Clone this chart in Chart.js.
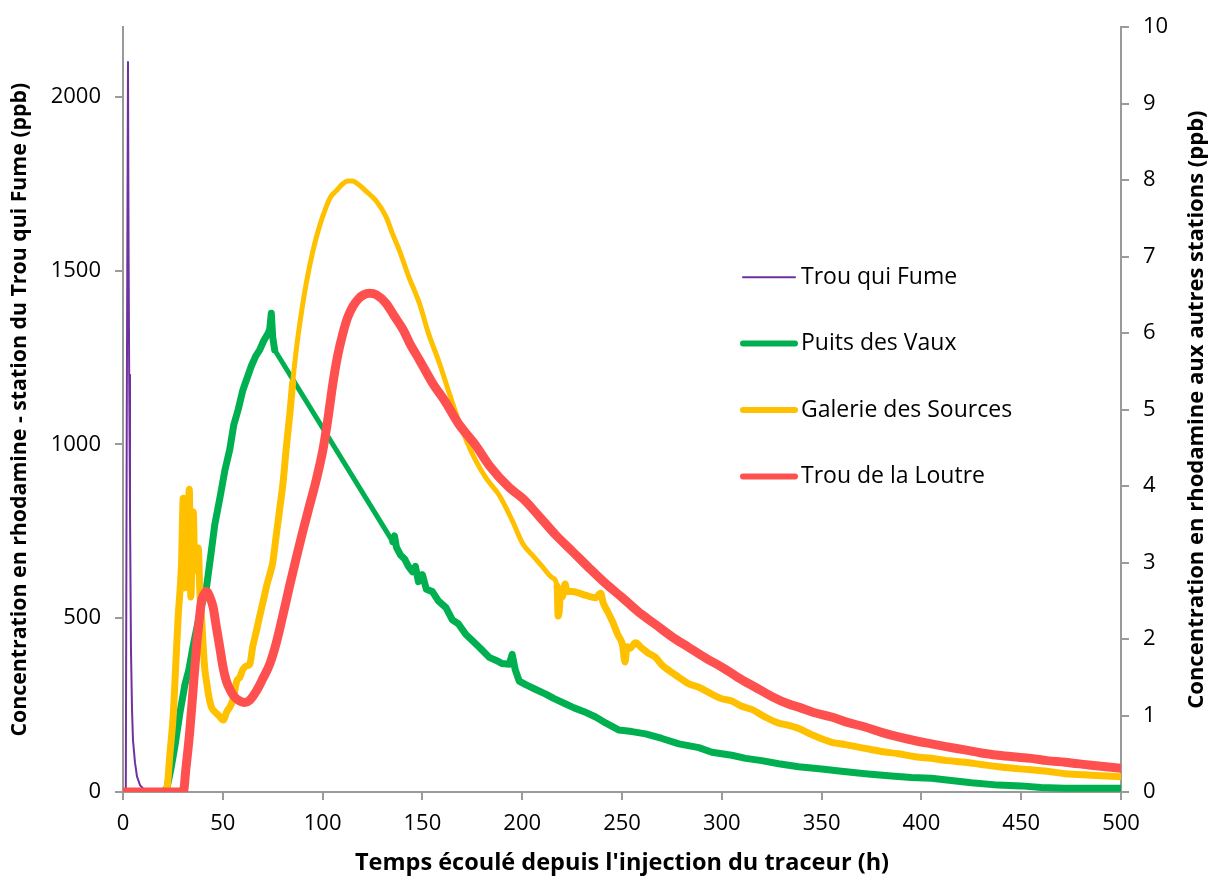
<!DOCTYPE html>
<html>
<head>
<meta charset="utf-8">
<script src="https://cdn.jsdelivr.net/npm/chart.js@4.4.1/dist/chart.umd.min.js"></script>
<style>
  body { margin: 0; background: #fff; }
  #wrap { width: 1212px; height: 880px; }
</style>
</head>
<body>
<div id="wrap"><canvas id="traceur"></canvas></div>
<script>
// Trou qui Fume (left axis, ppb)
const fumeHours = [0, 1.4, 1.9, 2.5, 2.8, 3.1, 3.5, 4, 4.5, 5, 6, 7, 8.5, 10, 13, 17, 22];
const fumePpb   = [0, 0, 1100, 2100, 1560, 1200, 820, 410, 240, 150, 85, 45, 20, 10, 4, 1, 0];

// Puits des Vaux (right axis, ppb)
const vauxHours = [0, 20, 22, 24, 26, 28.5, 31, 33, 35, 37, 39, 41.8, 44, 46, 48.5, 51, 53.5, 55.5, 57.7, 60, 62, 64.3, 66.5, 68.5, 70.5, 72.7, 73.5, 74.3, 75, 76,
  135.2, 136, 137, 139, 141, 143, 145, 146.5, 148, 150, 152, 155, 158, 161.8, 165, 168, 171.8, 175, 179, 183.5, 187, 190, 193.5, 195, 196.5, 198.5,
  202, 206, 211.8, 216, 221.8, 226, 231, 236.8, 242, 248.5, 255, 261.8, 270, 278.5, 288.5, 295, 305, 312, 320, 328.5, 338.5, 350, 360, 371.8,
  385, 395, 405, 415, 425, 438.5, 450, 460, 472, 485, 500];
const vauxPpb = [0, 0, 0.05, 0.3, 0.6, 1.03, 1.4, 1.6, 1.89, 2.15, 2.4, 2.67, 3.1, 3.5, 3.84, 4.2, 4.48, 4.8, 5.0, 5.25, 5.4, 5.57, 5.7, 5.78, 5.9, 6.0, 6.05, 6.26, 5.95, 5.78,
  3.27, 3.35, 3.2, 3.1, 3.05, 2.95, 2.88, 2.95, 2.75, 2.84, 2.65, 2.62, 2.5, 2.41, 2.25, 2.2, 2.06, 1.98, 1.88, 1.76, 1.72, 1.68, 1.67, 1.8, 1.6, 1.45,
  1.4, 1.35, 1.28, 1.22, 1.15, 1.1, 1.05, 0.98, 0.9, 0.81, 0.79, 0.76, 0.7, 0.63, 0.58, 0.52, 0.48, 0.44, 0.41, 0.37, 0.33, 0.3, 0.27, 0.24,
  0.21, 0.19, 0.18, 0.15, 0.12, 0.09, 0.08, 0.06, 0.05, 0.05, 0.05];

// Galerie des Sources (right axis, ppb)
const galerieHours = [0, 20, 22, 23.5, 25.2, 26.5, 27.7, 29.3, 30.2, 31, 31.8, 32.5, 33.2, 34, 34.7, 35.2, 36, 36.8, 37.7, 38.5, 39.3, 40.2, 41, 41.8, 43, 44.3,
  46, 48, 50.2, 52, 53.5, 55, 57, 58.5, 60, 62, 63.5, 65, 66.8, 68.5, 70.2, 72, 73.5, 75, 76.8, 78.5, 80.2, 81.8, 83.5, 85, 86.8, 89, 91.8, 95.2, 98.5,
  101.8, 104, 106.8, 110, 112.7, 115, 117.7, 122, 126.8, 131.8, 135, 138.5, 143, 148.5, 153, 158.5, 163, 168.5, 172, 176.8, 182, 188.5, 195, 200.2,
  205, 210, 215.2, 217.5, 218, 218.5, 219.2, 220, 221.5, 222.5, 225, 228.5, 232, 236.8, 239.3, 240.5, 243, 245.2, 248, 250.2, 251.5, 252.5, 254,
  256.8, 260, 263, 266.8, 270, 274, 278.5, 283, 288.5, 295, 300, 305, 310, 315, 321.8, 328.5, 332, 338.5, 345, 355, 362, 371.8, 380, 388.5,
  397, 405, 413, 421.8, 430, 438.5, 446, 455, 463, 472, 485, 500];
const galeriePpb = [0, 0, 0.05, 0.5, 1.02, 1.7, 2.32, 2.97, 3.84, 2.67, 3.5, 3.3, 3.96, 2.55, 3.2, 3.66, 2.9, 3.0, 3.19, 2.62, 2.3, 1.89, 1.6, 1.45, 1.25, 1.11,
  1.05, 1.0, 0.94, 1.05, 1.11, 1.2, 1.45, 1.5, 1.6, 1.65, 1.67, 1.9, 2.1, 2.3, 2.49, 2.7, 2.84, 3.0, 3.36, 3.7, 4.05, 4.5, 4.92, 5.35, 5.78, 6.2, 6.65, 7.08, 7.4,
  7.65, 7.78, 7.86, 7.95, 7.99, 7.99, 7.95, 7.85, 7.73, 7.52, 7.3, 7.08, 6.75, 6.39, 6.0, 5.61, 5.25, 4.83, 4.6, 4.33, 4.1, 3.88, 3.55, 3.25,
  3.1, 2.95, 2.8, 2.69, 2.3, 2.35, 2.6, 2.55, 2.72, 2.62, 2.62, 2.6, 2.57, 2.54, 2.6, 2.48, 2.35, 2.23, 2.05, 1.93, 1.7, 1.9, 1.88,
  1.95, 1.88, 1.82, 1.76, 1.66, 1.58, 1.5, 1.42, 1.37, 1.28, 1.22, 1.19, 1.12, 1.08, 0.98, 0.9, 0.88, 0.83, 0.75, 0.65, 0.62, 0.57, 0.53, 0.5,
  0.46, 0.44, 0.41, 0.39, 0.36, 0.33, 0.31, 0.29, 0.27, 0.24, 0.22, 0.2];

// Trou de la Loutre (right axis, ppb)
const loutreHours = [0, 30.2, 31.5, 33.5, 35, 36.8, 38, 39.3, 40.5, 41.8, 43.5, 45.2, 46.8, 48.5, 50, 51.8, 54, 56, 58.5, 61, 63.5, 66.8, 70, 73.5, 76.8,
  80.2, 83.5, 86.8, 90, 93.5, 97, 100.2, 102.5, 105.2, 107.5, 110.2, 112.5, 115.2, 118, 120.5, 123.5, 127, 131.8, 136, 140.2, 144, 148.5, 155,
  161.8, 168, 176.8, 183.5, 193.5, 200.2, 208, 216.8, 225, 233.5, 242, 250.2, 258, 266.8, 275, 283.5, 292, 300.2, 308, 316.8, 325, 333.5, 338.5,
  346, 355, 363, 371.8, 380, 388.5, 397, 405, 413, 421.8, 430, 438.5, 446, 455, 463, 472, 485, 500];
const loutrePpb = [0, 0, 0.3, 0.81, 1.3, 1.89, 2.2, 2.49, 2.58, 2.62, 2.55, 2.41, 2.15, 1.89, 1.65, 1.45, 1.32, 1.24, 1.19, 1.17, 1.2, 1.32, 1.48, 1.67, 1.95,
  2.32, 2.7, 3.06, 3.4, 3.75, 4.1, 4.48, 4.85, 5.35, 5.7, 6.0, 6.2, 6.35, 6.45, 6.5, 6.52, 6.5, 6.39, 6.22, 6.05, 5.85, 5.65, 5.35,
  5.09, 4.82, 4.53, 4.27, 3.98, 3.84, 3.62, 3.36, 3.15, 2.93, 2.72, 2.54, 2.36, 2.19, 2.03, 1.89, 1.75, 1.63, 1.5, 1.37, 1.25, 1.15, 1.11,
  1.04, 0.98, 0.91, 0.85, 0.78, 0.72, 0.67, 0.63, 0.59, 0.55, 0.51, 0.48, 0.46, 0.44, 0.41, 0.39, 0.35, 0.31];

const leftTicks = [0, 500, 1000, 1500, 2000];

const xTitle = "Temps écoulé depuis l'injection du traceur (h)";
const leftTitle = "Concentration en rhodamine - station du Trou qui Fume (ppb)";
const rightTitle = "Concentration en rhodamine aux autres stations (ppb)";

const FONT = "'Open Sans'";
const axisGrey = "#9a9a9a";

function pts(hours, vals) {
  return hours.map((h, i) => ({ x: h, y: vals[i] }));
}

// thinner stroke where the record is smooth (no noise)
function smoothWidth(from, to, thin, thick) {
  return ctx => (ctx.p0.parsed.x >= from && ctx.p1.parsed.x <= to) ? thin : thick;
}

const sideLegend = {
  id: "sideLegend",
  afterDraw(chart) {
    const ctx = chart.ctx;
    const area = chart.chartArea;
    ctx.save();
    chart.data.datasets.forEach((ds, i) => {
      const y = area.top + 250 + i * 66.4;
      const x0 = area.left + 620;
      ctx.strokeStyle = ds.borderColor;
      ctx.lineWidth = ds.legendWidth;
      ctx.lineCap = "round";
      ctx.beginPath();
      ctx.moveTo(x0, y);
      ctx.lineTo(x0 + 52, y);
      ctx.stroke();
      ctx.fillStyle = "#000";
      ctx.font = "23px " + FONT;
      ctx.textBaseline = "middle";
      ctx.textAlign = "left";
      ctx.fillText(ds.label, x0 + 58, y);
    });
    // right axis title, reading bottom to top like the left one
    ctx.translate(1197, (area.top + area.bottom) / 2);
    ctx.rotate(-Math.PI / 2);
    ctx.textAlign = "center";
    ctx.textBaseline = "middle";
    ctx.font = "bold 22px " + FONT;
    ctx.fillText(rightTitle, 0, 0);
    ctx.restore();
  }
};

const grid = { drawOnChartArea: false, drawTicks: true, tickLength: 8, color: axisGrey, lineWidth: 2 };
const border = { display: true, color: axisGrey, width: 2 };
const tickFont = { family: FONT, size: 22 };
const plainLabel = v => String(v);

new Chart(document.getElementById("traceur"), {
  type: "line",
  data: {
    datasets: [
      { label: "Trou qui Fume", data: pts(fumeHours, fumePpb), yAxisID: "y", borderColor: "#7030A0",
        borderWidth: 2, legendWidth: 2, tension: 0, order: 4 },
      { label: "Puits des Vaux", data: pts(vauxHours, vauxPpb), yAxisID: "y1", borderColor: "#00B050",
        borderWidth: 7, legendWidth: 6, order: 3, tension: 0,
        segment: { borderWidth: smoothWidth(76, 135.2, 5, 7) } },
      { label: "Galerie des Sources", data: pts(galerieHours, galeriePpb), yAxisID: "y1", borderColor: "#FFC000",
        borderWidth: 7, legendWidth: 6, order: 2, cubicInterpolationMode: "monotone",
        segment: { borderWidth: smoothWidth(85, 217.5, 5, 7) } },
      { label: "Trou de la Loutre", data: pts(loutreHours, loutrePpb), yAxisID: "y1", borderColor: "#FF5050",
        borderWidth: 9, legendWidth: 6, order: 1, cubicInterpolationMode: "monotone" }
    ]
  },
  options: {
    responsive: true,
    maintainAspectRatio: false,
    animation: false,
    events: [],
    layout: { padding: { top: 25, left: 0, right: 0, bottom: 0 } },
    elements: {
      point: { radius: 0 },
      line: { borderCapStyle: "round", borderJoinStyle: "round", fill: false }
    },
    plugins: { legend: { display: false }, tooltip: { enabled: false } },
    scales: {
      x: {
        type: "linear", min: 0, max: 500,
        ticks: { stepSize: 50, color: "#000", font: tickFont, padding: 11, maxRotation: 0, callback: plainLabel },
        grid: grid, border: border,
        title: { display: true, text: xTitle, color: "#000", font: { family: FONT, size: 23.5, weight: "bold" }, padding: { top: 0, bottom: 3 } },
        afterFit(scale) { scale.height = 88; }
      },
      y: {
        type: "linear", position: "left", min: 0, max: 2200,
        ticks: { color: "#000", font: tickFont, padding: 14, callback: plainLabel },
        afterBuildTicks(scale) { scale.ticks = leftTicks.map(v => ({ value: v })); },
        grid: grid, border: border,
        title: { display: true, text: leftTitle, color: "#000", font: { family: FONT, size: 21.3, weight: "bold" }, padding: { top: 7, bottom: 0 } },
        afterFit(scale) { scale.width = 123; }
      },
      y1: {
        type: "linear", position: "right", min: 0, max: 10,
        ticks: { stepSize: 1, color: "#000", font: tickFont, padding: 14, callback: plainLabel },
        grid: grid, border: border,
        title: { display: false },
        afterFit(scale) { scale.width = 91; }
      }
    }
  },
  plugins: [sideLegend]
});
</script>
</body>
</html>
